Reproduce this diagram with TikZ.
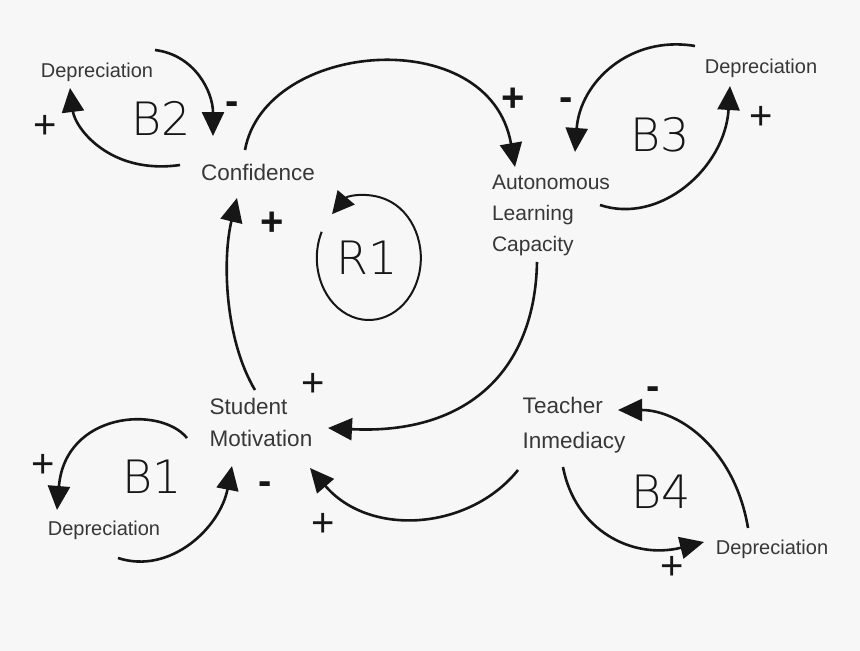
\documentclass[tikz,border=0pt]{standalone}
\usepackage{fontspec}
\setmainfont{Liberation Sans}
\newfontfamily\handfont{DejaVuSans-ExtraLight.ttf}
\usetikzlibrary{arrows.meta}
\definecolor{paper}{RGB}{247,247,247}
\definecolor{ink}{RGB}{22,22,22}
\definecolor{labelgray}{RGB}{55,55,55}

\begin{document}
\begin{tikzpicture}[x=1pt,y=-1pt,
      var/.style={font=\fontsize{22.5}{33}\selectfont,text=labelgray,
                  align=left,inner sep=0pt},
      drain/.style={font=\fontsize{20}{23}\selectfont,text=labelgray,
                    inner sep=0pt},
      link/.style={draw=ink,line width=2.6pt,
                   -{Triangle[length=24pt,width=22pt]}},
      sign/.style={font=\fontsize{40}{40}\selectfont,text=ink,
                   inner sep=0pt},
      loopid/.style={font=\handfont\fontsize{46}{46}\selectfont,text=ink,
                     inner sep=0pt}]

    \fill[paper] (0,0) rectangle (860,651);
    \useasboundingbox (0,0) rectangle (860,651);

    % variables
    \node[var] (conf) at (258,172) {Confidence};
    \node[var,font=\fontsize{21}{31}\selectfont] (alc) at (551,215)
      {Autonomous\\Learning\\Capacity};
    \node[var,font=\fontsize{22.5}{32}\selectfont] (sm) at (261,422)
      {Student\\Motivation};
    \node[var,font=\fontsize{22.5}{35}\selectfont] (ti) at (574,425)
      {Teacher\\Inmediacy};

    \node[drain] (dep2) at (97,72) {Depreciation};
    \node[drain] (dep3) at (761,68) {Depreciation};
    \node[drain] (dep1) at (104,530) {Depreciation};
    \node[drain] (dep4) at (772,549) {Depreciation};

    % loop names
    \node[loopid] (r1) at (367,258) {R1};
    \node[loopid] (b2) at (161,118) {B2};
    \node[loopid] (b3) at (660,135) {B3};
    \node[loopid] (b1) at (152,477) {B1};
    \node[loopid] (b4) at (661,492) {B4};

    \draw[draw=ink,line width=2pt,-{Triangle[length=22pt,width=22pt]}]
      ([shift={(-45.3,-26.2)}]r1.center)
      arc[start angle=205,delta angle=-340,x radius=52,y radius=62];

    % R1
    \draw[link] ([shift={(-13,-22)}]conf.center)
      .. controls +(20,-110) and +(-25,-145) .. ([shift={(-36,-48)}]alc.center);
    \draw[link] ([shift={(-14,47)}]alc.center)
      .. controls +(-2,108) and +(140,7) .. ([shift={(67,6)}]sm.center);
    \draw[link] ([shift={(-6,-32)}]sm.center)
      .. controls +(-30,-50) and +(-15,62) .. ([shift={(-21,26)}]conf.center);
    \draw[link] ([shift={(-56,45)}]ti.center)
      .. controls +(-48,60) and +(60,70) .. ([shift={(49,46)}]sm.center);

    % B2
    \draw[link] ([shift={(-78,-7)}]conf.center)
      .. controls +(-70,10) and +(5,40) .. ([shift={(-27,16)}]dep2.center);
    \draw[link] ([shift={(58,-22)}]dep2.center)
      .. controls +(40,5) and +(0,-44) .. ([shift={(-45,-36)}]conf.center);

    % B3
    \draw[link] ([shift={(-66,-22)}]dep3.center)
      .. controls +(-65,-11) and +(5,-70) .. ([shift={(24,-63)}]alc.center);
    \draw[link] ([shift={(49,-10)}]alc.center)
      .. controls +(60,20) and +(-5,82) .. ([shift={(-31,18)}]dep3.center);

    % B1
    \draw[link] ([shift={(-74,16)}]sm.center)
      .. controls +(-27,-33) and +(8,-98) .. ([shift={(-47,-20)}]dep1.center);
    \draw[link] ([shift={(14,28)}]dep1.center)
      .. controls +(52,17) and +(-12,62) .. ([shift={(-29,44)}]sm.center);

    % B4
    \draw[link] ([shift={(-11,42)}]ti.center)
      .. controls +(12,63) and +(-72,18) .. ([shift={(-68,-7)}]dep4.center);
    \draw[link] ([shift={(-24,-21)}]dep4.center)
      .. controls +(-13,-78) and +(62,0) .. ([shift={(44,-15)}]ti.center);

    % polarities
    \node[sign] (s1) at (513,100) {\textbf{+}};
    \node[sign] (s2) at (313,385) {+};
    \node[sign] (s3) at (272,224) {\textbf{+}};
    \node[sign] (s4) at (323,525) {+};
    \node[sign] (s5) at (45,127) {+};
    \node[sign] (s6) at (232,108) {\textbf{-}};
    \node[sign] (s7) at (566,104) {\textbf{-}};
    \node[sign] (s8) at (761,118) {+};
    \node[sign] (s9) at (43,466) {+};
    \node[sign] (s10) at (265,488) {\textbf{-}};
    \node[sign] (s11) at (653,393) {\textbf{-}};
    \node[sign] (s12) at (672,568) {+};
  \end{tikzpicture}
\end{document}
